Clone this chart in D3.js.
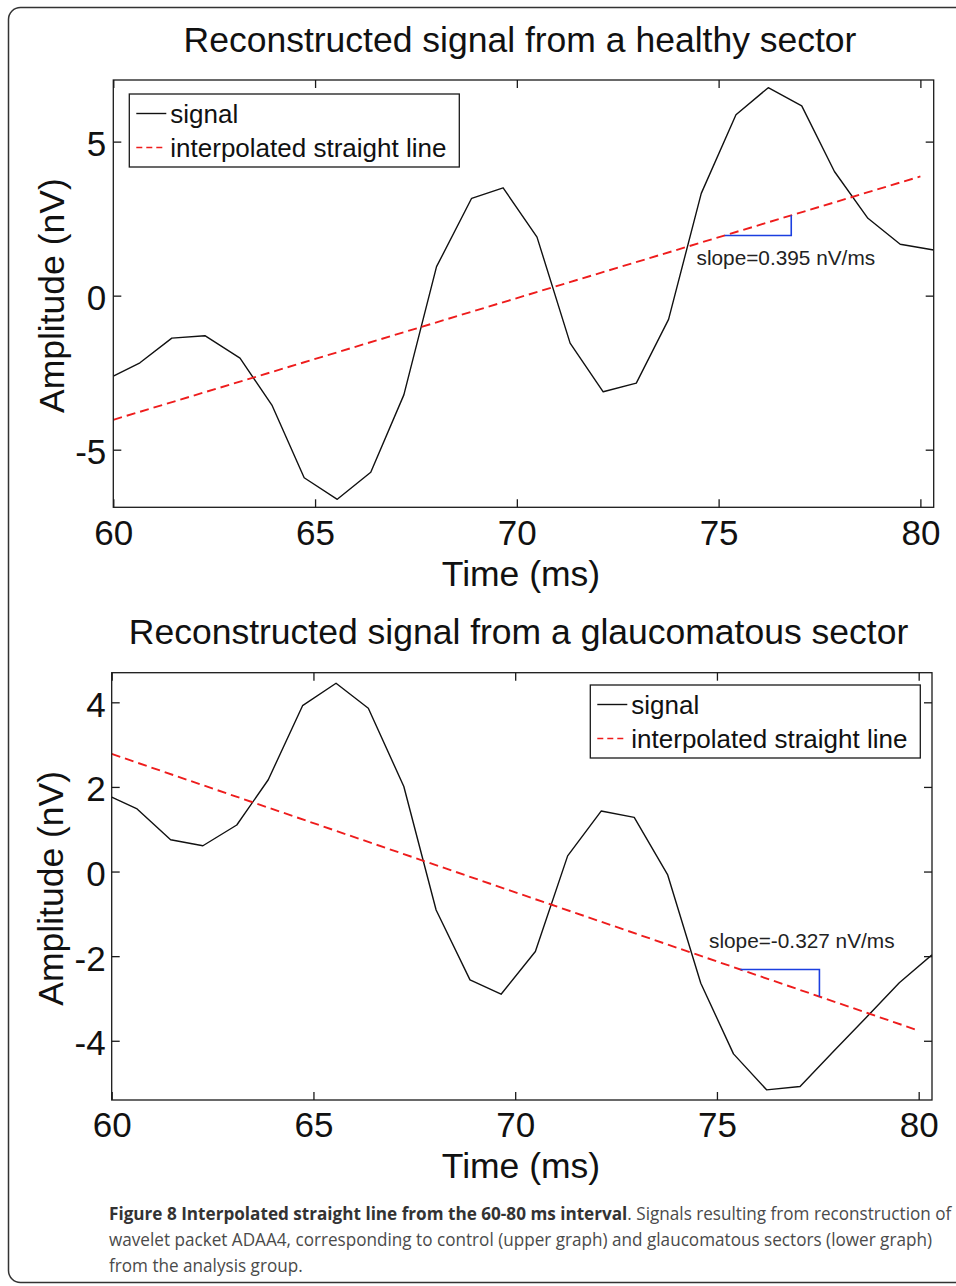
<!DOCTYPE html>
<html>
<head>
<meta charset="utf-8">
<script src="https://cdn.jsdelivr.net/npm/d3@7"></script>
<style>
  body { margin: 0; background: #fff; }
  svg { display: block; font-family: 'Liberation Sans', Arial, Helvetica, sans-serif; }
</style>
</head>
<body>
<div id="figure"></div>
<script>
// values (ms / nV)
const ticksX = [60, 65, 70, 75, 80]
const legendLabels = ['signal', 'interpolated straight line']

// upper graph: healthy sector
const healthyTime = [60, 60.66, 61.45, 62.27, 63.14, 63.93, 64.73, 65.55, 66.38, 67.20, 68.01, 68.88, 69.66,
  70.50, 71.32, 72.14, 72.96, 73.76, 74.57, 75.43, 76.23, 77.06, 77.87, 78.70, 79.50, 80.33]
const healthySignal = [-2.61, -2.18, -1.38, -1.30, -2.03, -3.55, -5.91, -6.61, -5.73, -3.22, 0.94, 3.16, 3.50,
  1.90, -1.54, -3.12, -2.84, -0.77, 3.32, 5.87, 6.75, 6.16, 4.03, 2.51, 1.67, 1.48]
const healthyFitTime = [60, 80]
const healthyFitValue = [-4.03, 3.87]
const healthySlopeTime = [75.15, 76.8]
const healthyTicksY = [-5, 0, 5]

// lower graph: glaucomatous sector
const glaucomaTime = [60, 60.63, 61.46, 62.26, 63.10, 63.88, 64.73, 65.56, 66.36, 67.24, 68.04, 68.88, 69.65,
  70.50, 71.30, 72.13, 72.95, 73.78, 74.60, 75.41, 76.23, 77.06, 77.88, 78.70, 79.52, 80.33]
const glaucomaSignal = [1.76, 1.48, 0.75, 0.61, 1.10, 2.17, 3.92, 4.45, 3.86, 2.01, -0.91, -2.56, -2.90,
  -1.89, 0.37, 1.43, 1.28, -0.08, -2.64, -4.31, -5.16, -5.08, -4.26, -3.45, -2.63, -1.97]
const glaucomaFitTime = [60, 80]
const glaucomaFitValue = [2.78, -3.76]
const glaucomaSlopeTime = [75.58, 77.54]
const glaucomaTicksY = [-4, -2, 0, 2, 4]

const width = 956
const height = 1286

const svg = d3.select('#figure').append('svg')
  .attr('width', width)
  .attr('height', height)

// rounded frame of the figure box
svg.append('rect')
  .attr('x', 8.5)
  .attr('y', 7.5)
  .attr('width', 980)
  .attr('height', 1275)
  .attr('rx', 12)
  .style('fill', 'none')
  .style('stroke', '#333')
  .style('stroke-width', 1.5)

const ink = '#1a1a1a'

const drawPanel = ({
  id, title, time, signal, fitTime, fitValue, slopeTime, slopeLabel, yTicks,
  yDomain, box, titleX, titleY, legendAt, slopeAt, xLabelY, yLabelX, yPad, xPad
}) => {
  const x = d3.scaleLinear().domain([60, 80.33]).range([box.left, box.right])
  const y = d3.scaleLinear().domain(yDomain).range([box.bottom, box.top])

  const g = svg.append('g')

  g.append('text')
    .attr('x', titleX)
    .attr('y', titleY)
    .attr('text-anchor', 'middle')
    .style('font-size', '35.5px')
    .style('fill', '#111')
    .text(title)

  g.append('clipPath')
    .attr('id', 'clip-' + id)
    .append('rect')
    .attr('x', box.left)
    .attr('y', box.top)
    .attr('width', box.right - box.left)
    .attr('height', box.bottom - box.top)

  const plot = g.append('g').attr('clip-path', `url(#clip-${id})`)
  const line = d3.line().x(d => x(d[0])).y(d => y(d[1]))

  plot.append('path') // signal
    .datum(d3.zip(time, signal))
    .attr('d', line)
    .style('fill', 'none')
    .style('stroke', '#111')
    .style('stroke-width', 1.4)
    .style('stroke-linejoin', 'round')

  plot.append('path') // fitted straight line
    .datum(d3.zip(fitTime, fitValue))
    .attr('d', line)
    .style('fill', 'none')
    .style('stroke', '#ee1c1c')
    .style('stroke-width', 1.9)
    .style('stroke-dasharray', '9,5')

  // slope marker hanging off the fitted line
  const fit = t => fitValue[0] + (t - fitTime[0]) * (fitValue[1] - fitValue[0]) / (fitTime[1] - fitTime[0])
  const tri = [[slopeTime[0], fit(slopeTime[0])], [slopeTime[1], fit(slopeTime[0])], [slopeTime[1], fit(slopeTime[1])]]
  plot.append('path')
    .datum(tri)
    .attr('d', line)
    .style('fill', 'none')
    .style('stroke', '#1b3fe0')
    .style('stroke-width', 1.6)

  g.append('text')
    .attr('x', slopeAt[0])
    .attr('y', slopeAt[1])
    .style('font-size', '20.8px')
    .style('fill', '#222')
    .text(slopeLabel)

  // axes, ticks pointing inward on all four sides
  const styleAxis = sel => {
    sel.select('.domain').remove()
    sel.attr('font-family', null).attr('font-size', null)
    sel.selectAll('line').style('stroke', ink).style('stroke-width', 1.3)
    sel.selectAll('text').style('font-size', '35px').style('fill', '#111')
  }

  g.append('g')
    .attr('transform', `translate(0, ${box.bottom})`)
    .call(d3.axisBottom(x).tickValues(ticksX).tickSizeInner(-8).tickSizeOuter(0).tickPadding(xPad))
    .call(styleAxis)

  g.append('g')
    .attr('transform', `translate(0, ${box.top})`)
    .call(d3.axisTop(x).tickValues(ticksX).tickSizeInner(-8).tickSizeOuter(0).tickFormat(''))
    .call(styleAxis)

  g.append('g')
    .attr('transform', `translate(${box.left}, 0)`)
    .call(d3.axisLeft(y).tickValues(yTicks).tickSizeInner(-8).tickSizeOuter(0).tickPadding(yPad)
      .tickFormat(d => String(d)))
    .call(styleAxis)
    .selectAll('text')
    .attr('dy', '0.4em')

  g.append('g')
    .attr('transform', `translate(${box.right}, 0)`)
    .call(d3.axisRight(y).tickValues(yTicks).tickSizeInner(-8).tickSizeOuter(0).tickFormat(''))
    .call(styleAxis)

  g.append('rect')
    .attr('x', box.left)
    .attr('y', box.top)
    .attr('width', box.right - box.left)
    .attr('height', box.bottom - box.top)
    .style('fill', 'none')
    .style('stroke', ink)
    .style('stroke-width', 1.3)

  g.append('text') // X-axis label
    .attr('x', 521)
    .attr('y', xLabelY)
    .attr('text-anchor', 'middle')
    .style('font-size', '35.5px')
    .style('fill', '#111')
    .text('Time (ms)')

  g.append('text') // Y-axis label
    .attr('transform', `translate(${yLabelX}, ${(box.top + box.bottom) / 2 + 2}) rotate(-90)`)
    .attr('text-anchor', 'middle')
    .style('font-size', '35.5px')
    .style('fill', '#111')
    .text('Amplitude (nV)')

  // legend
  const lg = g.append('g').attr('transform', `translate(${legendAt[0]}, ${legendAt[1]})`)
  lg.append('rect')
    .attr('width', 330)
    .attr('height', 73)
    .style('fill', '#fff')
    .style('stroke', ink)
    .style('stroke-width', 1.3)

  const rows = lg.selectAll('.legend-row')
    .data(legendLabels)
    .enter().append('g')
    .attr('class', 'legend-row')
    .attr('transform', (d, i) => `translate(0, ${19.5 + i * 34})`)

  rows.append('line')
    .attr('x1', 7)
    .attr('x2', 37)
    .style('stroke', (d, i) => i ? '#ee1c1c' : '#111')
    .style('stroke-width', (d, i) => i ? 1.6 : 1.4)
    .style('stroke-dasharray', (d, i) => i ? '6,4' : null)

  rows.append('text')
    .attr('x', 41)
    .attr('y', 9.5)
    .style('font-size', '26px')
    .style('fill', '#111')
    .text(d => d)
}

drawPanel({
  id: 'healthy',
  title: 'Reconstructed signal from a healthy sector',
  time: healthyTime,
  signal: healthySignal,
  fitTime: healthyFitTime,
  fitValue: healthyFitValue,
  slopeTime: healthySlopeTime,
  slopeLabel: 'slope=0.395 nV/ms',
  yTicks: healthyTicksY,
  yDomain: [-6.87, 7.0],
  box: { left: 113.3, top: 80, right: 933.7, bottom: 507.3 },
  titleX: 520,
  titleY: 52,
  legendAt: [129.3, 94],
  slopeAt: [696.5, 265],
  xLabelY: 586,
  yLabelX: 64,
  yPad: 7,
  xPad: 12.5
})

drawPanel({
  id: 'glaucoma',
  title: 'Reconstructed signal from a glaucomatous sector',
  time: glaucomaTime,
  signal: glaucomaSignal,
  fitTime: glaucomaFitTime,
  fitValue: glaucomaFitValue,
  slopeTime: glaucomaSlopeTime,
  slopeLabel: 'slope=-0.327 nV/ms',
  yTicks: glaucomaTicksY,
  yDomain: [-5.4, 4.7],
  box: { left: 111.7, top: 672.7, right: 932, bottom: 1100 },
  titleX: 518.5,
  titleY: 644,
  legendAt: [590.3, 685],
  slopeAt: [709, 947.5],
  xLabelY: 1178,
  yLabelX: 63,
  yPad: 6,
  xPad: 12
})

// figure caption
const caption = svg.append('g')
  .style('font-family', "'Open Sans', 'Noto Sans', sans-serif")
  .style('font-size', '18px')

const first = caption.append('text')
  .attr('x', 0)
  .attr('y', 1220)
first.append('tspan')
  .style('font-weight', 'bold')
  .style('fill', '#333')
  .text('Figure 8 Interpolated straight line from the 60-80 ms interval')
first.append('tspan')
  .style('fill', '#4a4a4a')
  .text('. Signals resulting from reconstruction of')

caption.append('text')
  .attr('x', 0)
  .attr('y', 1246)
  .style('fill', '#4a4a4a')
  .text('wavelet packet ADAA4, corresponding to control (upper graph) and glaucomatous sectors (lower graph)')

caption.append('text')
  .attr('x', 0)
  .attr('y', 1272)
  .style('fill', '#4a4a4a')
  .text('from the analysis group.')

// the caption face is condensed; squeeze to the measured line length
const natural = first.node().getComputedTextLength()
const k = 843 / natural
caption.attr('transform', `translate(109, 0) scale(${k}, 1)`)
</script>
</body>
</html>
